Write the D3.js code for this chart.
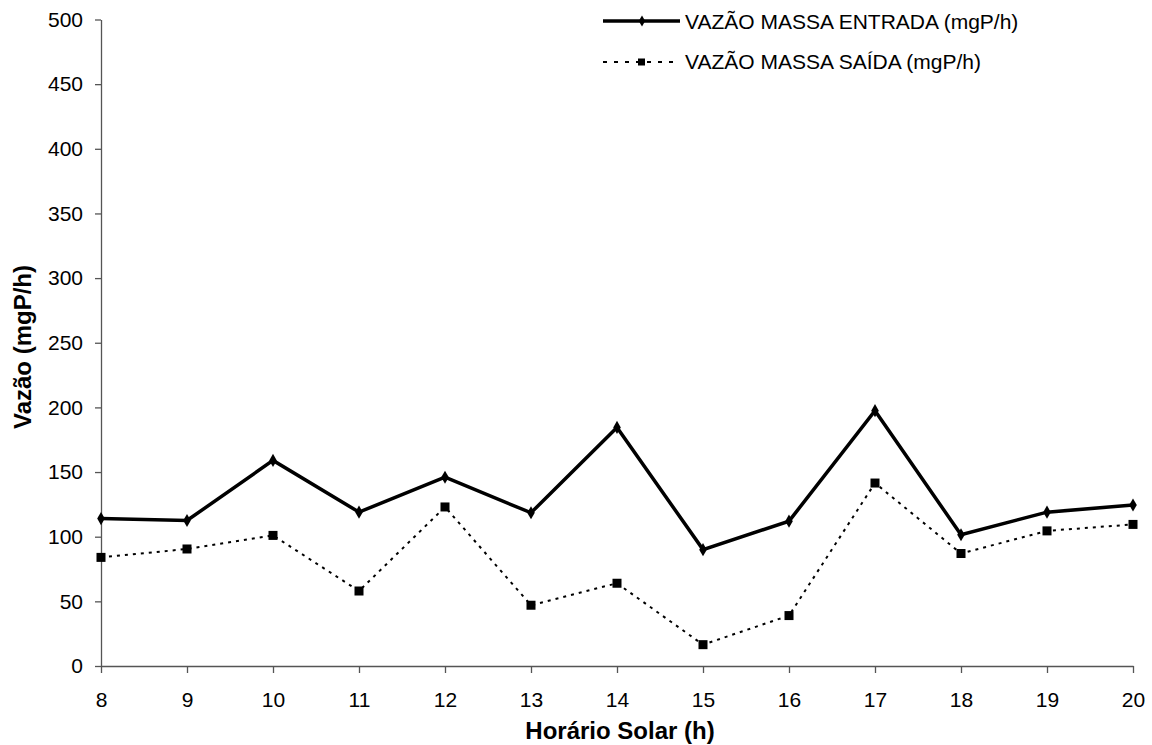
<!DOCTYPE html>
<html>
<head>
<meta charset="utf-8">
<script src="https://cdn.jsdelivr.net/npm/d3@7"></script>
<style>
  body { margin: 0; background: #fff; }
  text { font-family: "Liberation Sans", Arial, sans-serif; }
</style>
</head>
<body>
<div class="svg-container"></div>
<script>
var width = 1152;
var height = 745;

// data
var hours = [8, 9, 10, 11, 12, 13, 14, 15, 16, 17, 18, 19, 20];
var entrada = [114, 112.5, 159, 119, 146, 118.5, 184.5, 90, 112, 197.5, 101.5, 119, 124.5];
var saida = [84, 90.5, 101, 58, 123, 47, 64, 16.5, 39, 141.5, 87, 104.5, 109.5];
var yTicks = [0, 50, 100, 150, 200, 250, 300, 350, 400, 450, 500];
var seriesNames = ["VAZÃO MASSA ENTRADA (mgP/h)", "VAZÃO MASSA SAÍDA (mgP/h)"];

var padding = { "top": 19.5, "right": 19, "bottom": 79, "left": 101 };

var svg = d3.select(".svg-container")
            .append("svg")
            .attr("width", width)
            .attr("height", height);

var g = svg.append("g")
           .attr("transform", "translate(" + padding.left + "," + padding.top + ")");

var innerW = width - padding.left - padding.right;
var innerH = height - padding.top - padding.bottom;

var scaleX = d3.scaleLinear().domain([8, 20]).range([0, innerW]);
var scaleY = d3.scaleLinear().domain([0, 500]).range([innerH, 0]);

// axes
var xAxis = g.append("g")
             .attr("transform", "translate(0," + innerH + ")")
             .call(d3.axisBottom(scaleX).tickValues(hours).tickSize(7).tickSizeOuter(0).tickPadding(19));

var yAxis = g.append("g")
             .call(d3.axisLeft(scaleY).tickValues(yTicks).tickSize(6).tickSizeOuter(0).tickPadding(12));

[xAxis, yAxis].forEach(function(a) {
    a.attr("font-size", null).attr("font-family", null);
    a.select(".domain").attr("stroke", "#555").attr("stroke-width", 1.3);
    a.selectAll(".tick line").attr("stroke", "#555").attr("stroke-width", 1.3);
    a.selectAll(".tick text").attr("fill", "#000").style("font-size", "21px");
});

// lines
var line = d3.line()
             .x(function(d, i) { return scaleX(hours[i]); })
             .y(function(d) { return scaleY(d); });

g.append("path")
 .datum(saida)
 .attr("fill", "none")
 .attr("stroke", "#000")
 .attr("stroke-width", 2)
 .attr("stroke-dasharray", "3,5")
 .attr("d", line);

g.append("path")
 .datum(entrada)
 .attr("fill", "none")
 .attr("stroke", "#000")
 .attr("stroke-width", 3.5)
 .attr("d", line);

var diamond = d3.symbol().type(d3.symbolDiamond).size(50);

g.selectAll(".dia")
 .data(entrada)
 .enter().append("path")
 .attr("class", "dia")
 .attr("d", diamond)
 .attr("transform", function(d, i) { return "translate(" + scaleX(hours[i]) + "," + scaleY(d) + ")"; })
 .attr("fill", "#000");

g.selectAll(".sq")
 .data(saida)
 .enter().append("rect")
 .attr("class", "sq")
 .attr("x", function(d, i) { return scaleX(hours[i]) - 4.5; })
 .attr("y", function(d) { return scaleY(d) - 4.5; })
 .attr("width", 9)
 .attr("height", 9)
 .attr("fill", "#000");

// legend
var legend = svg.append("g").attr("transform", "translate(603,21)");

legend.append("line")
      .attr("x1", 0).attr("x2", 77).attr("y1", 0).attr("y2", 0)
      .attr("stroke", "#000").attr("stroke-width", 3.5);
legend.append("path")
      .attr("d", d3.symbol().type(d3.symbolDiamond).size(36))
      .attr("transform", "translate(39,0)");
legend.append("text")
      .attr("x", 82).attr("y", 7.5)
      .style("font-size", "21px")
      .text(seriesNames[0]);

legend.append("line")
      .attr("x1", 0).attr("x2", 77).attr("y1", 41).attr("y2", 41)
      .attr("stroke", "#000").attr("stroke-width", 2)
      .attr("stroke-dasharray", "4,7");
legend.append("rect")
      .attr("x", 35).attr("y", 37.5).attr("width", 7).attr("height", 7);
legend.append("text")
      .attr("x", 82).attr("y", 47.5)
      .style("font-size", "21px")
      .text(seriesNames[1]);

// axis labels
svg.append("text")
   .attr("x", 620)
   .attr("y", 739)
   .attr("text-anchor", "middle")
   .style("font-size", "24px")
   .style("font-weight", "bold")
   .text("Horário Solar (h)");

svg.append("text")
   .attr("transform", "rotate(270)")
   .attr("x", -347)
   .attr("y", 31)
   .attr("text-anchor", "middle")
   .style("font-size", "24px")
   .style("font-weight", "bold")
   .text("Vazão (mgP/h)");
</script>
</body>
</html>
